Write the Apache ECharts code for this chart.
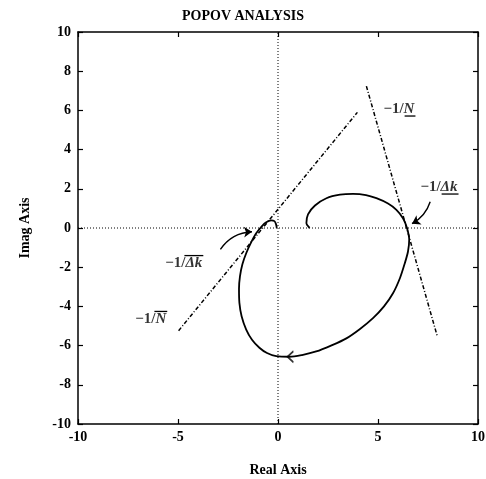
<!DOCTYPE html>
<html>
<head>
<meta charset="utf-8">
<script src="https://cdn.jsdelivr.net/npm/echarts@6/dist/echarts.min.js"></script>
<style>
html,body{margin:0;padding:0;background:#fff;}
#c{width:486px;height:479px;}
</style>
</head>
<body>
<div id="c"></div>
<script>
// Nyquist-type curve (Real, Imag)
const curveRe = [1.58,1.42,1.5,1.85,2.42,3.1,3.75,4.4,4.92,5.5,5.92,6.25,6.45,6.56,6.5,6.34,6.1,5.75,5.3,4.75,4.1,3.42,2.65,1.91,1.2,0.58,-0.09,-0.55,-0.93,-1.3,-1.59,-1.82,-1.93,-1.95,-1.9,-1.78,-1.59,-1.35,-1.09,-0.8,-0.59,-0.34,-0.18,-0.1,-0.06];
const curveIm = [0,0.25,0.7,1.15,1.52,1.7,1.74,1.68,1.52,1.25,0.93,0.5,0.0,-0.6,-1.2,-1.8,-2.55,-3.33,-4.0,-4.6,-5.15,-5.63,-6.0,-6.3,-6.48,-6.57,-6.54,-6.38,-6.11,-5.7,-5.18,-4.5,-3.82,-3.1,-2.46,-1.85,-1.29,-0.75,-0.27,0.1,0.29,0.39,0.35,0.2,0];
// Popov lines -1/N (lower bound) and -1/N (upper bound)
const lineLowerRe = [-4.97, 3.97];
const lineLowerIm = [-5.24, 5.9];
const lineUpperRe = [4.42, 7.96];
const lineUpperIm = [7.24, -5.51];
// Direction marker on curve
const dirMarkRe = [0.62];
const dirMarkIm = [-6.57];
// Annotation arrows (start, end)
const arrowStartRe = [-2.88, 7.61];
const arrowStartIm = [-1.09, 1.34];
const arrowEndRe = [-1.3, 6.7];
const arrowEndIm = [-0.19, 0.22];
// Text labels: prefix, symbol, bar type (under / over)
const labelPrefix = ['\u22121/', '\u22121/', '\u22121/', '\u22121/'];
const labelSymbol = ['N', '\u0394k', '\u0394k', 'N'];
const labelBar = ['under', 'under', 'over', 'over'];
const labelRe = [5.27, 7.12, -5.64, -7.14];
const labelIm = [6.07, 2.09, -1.79, -4.64];
// Axes
const xTicks = [-10, -5, 0, 5, 10];
const yTicks = [-10, -8, -6, -4, -2, 0, 2, 4, 6, 8, 10];

const zip = (a, b) => a.map((v, i) => [v, b[i]]);
const FONT = '"Liberation Serif", "DejaVu Serif", serif';
const LFS = 15;

const chart = echarts.init(document.getElementById('c'), null, {renderer: 'canvas'});
const axisCommon = {
  type: 'value', min: -10, max: 10,
  axisLine: {show: true, onZero: false, lineStyle: {color: '#000', width: 1.5}},
  axisTick: {show: true, inside: true, length: 5, lineStyle: {color: '#000', width: 1.2}},
  splitLine: {show: false}
};
const labelStyle = {color: '#000', fontFamily: FONT, fontSize: 14, fontWeight: 'bold'};

chart.setOption({
  animation: false,
  backgroundColor: '#fff',
  title: {
    text: 'POPOV ANALYSIS', left: 'center', top: 4,
    textStyle: {color: '#000', fontFamily: FONT, fontSize: 14, fontWeight: 'bold'}
  },
  grid: {left: 78, right: 8, top: 32, bottom: 55, containLabel: false, outerBoundsMode: 'none'},
  xAxis: [
    Object.assign({}, axisCommon, {
      position: 'bottom', interval: 5,
      axisLabel: Object.assign({margin: 6}, labelStyle),
      name: 'Real Axis', nameLocation: 'middle', nameGap: 39,
      nameTextStyle: labelStyle
    }),
    Object.assign({}, axisCommon, {position: 'top', interval: 5, axisLabel: {show: false}})
  ],
  yAxis: [
    Object.assign({}, axisCommon, {
      position: 'left', interval: 2,
      axisLabel: Object.assign({margin: 7}, labelStyle),
      name: 'Imag Axis', nameLocation: 'middle', nameGap: 46, nameRotate: 90,
      nameTextStyle: labelStyle
    }),
    Object.assign({}, axisCommon, {position: 'right', interval: 2, axisLabel: {show: false}})
  ],
  series: [
    {type: 'line', data: [[0, -10], [0, 10]], symbol: 'none', silent: true,
     lineStyle: {color: '#000', width: 1, type: [1, 2]}},
    {type: 'line', data: [[-10, 0], [10, 0]], symbol: 'none', silent: true,
     lineStyle: {color: '#000', width: 1, type: [1, 2]}},
    {type: 'line', data: zip(lineLowerRe, lineLowerIm), symbol: 'none',
     lineStyle: {color: '#000', width: 1.5, type: [4, 2, 1, 2]}},
    {type: 'line', data: zip(lineUpperRe, lineUpperIm), symbol: 'none',
     lineStyle: {color: '#000', width: 1.5, type: [4, 2, 1, 2]}},
    {type: 'line', data: zip(curveRe, curveIm), symbol: 'none', smooth: 0.3,
     lineStyle: {color: '#000', width: 1.8}},
    {type: 'scatter', data: zip(dirMarkRe, dirMarkIm),
     symbol: 'path://M10,0 L0,10 L10,20', symbolSize: [6, 11],
     itemStyle: {color: 'none', borderColor: '#000', borderWidth: 1.5}},
    {type: 'lines', coordinateSystem: 'cartesian2d',
     symbol: ['none', 'arrow'], symbolSize: 8,
     lineStyle: {color: '#000', width: 1.4, opacity: 1},
     data: [
       {coords: [[arrowStartRe[0], arrowStartIm[0]], [arrowEndRe[0], arrowEndIm[0]]], lineStyle: {curveness: 0.25}},
       {coords: [[arrowStartRe[1], arrowStartIm[1]], [arrowEndRe[1], arrowEndIm[1]]], lineStyle: {curveness: 0.2}}
     ]},
    {type: 'scatter', symbolSize: 0,
     data: zip(labelRe, labelIm).map((p, i) => ({value: p, label: {
       formatter: '{a|' + labelPrefix[i] + '}{b|' + labelSymbol[i] + '}'}})),
     label: {show: true, position: 'inside', align: 'left', verticalAlign: 'middle',
       rich: {
         a: {fontFamily: FONT, fontSize: LFS, fontWeight: 'bold', color: '#000'},
         b: {fontFamily: FONT, fontSize: LFS, fontWeight: 'bold', fontStyle: 'italic', color: '#000'}
       }}}
  ]
});

// under / over bars of the label symbols, placed from the label anchors via the axes
const mctx = document.createElement('canvas').getContext('2d');
const bars = [];
labelRe.forEach((re, i) => {
  const p = chart.convertToPixel({gridIndex: 0}, [re, labelIm[i]]);
  mctx.font = 'bold ' + LFS + 'px ' + FONT;
  const wPre = mctx.measureText(labelPrefix[i]).width;
  mctx.font = 'italic bold ' + LFS + 'px ' + FONT;
  const wSym = mctx.measureText(labelSymbol[i]).width;
  const y = labelBar[i] === 'under' ? p[1] + 7 : p[1] - 7.5;
  const x0 = p[0] + wPre - (labelBar[i] === 'over' ? 1 : -1);
  bars.push({type: 'line', silent: true,
    shape: {x1: x0, y1: y, x2: p[0] + wPre + wSym + 1, y2: y},
    style: {stroke: '#000', lineWidth: 1.3}});
});
chart.setOption({graphic: bars});
</script>
</body>
</html>
